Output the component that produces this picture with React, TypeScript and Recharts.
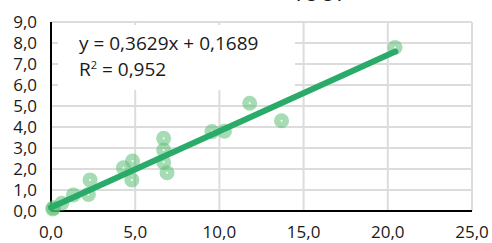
import React from "react";
import {
  ScatterChart, Scatter, XAxis, YAxis, CartesianGrid,
} from "recharts";

// measured values
const xs = [0.1, 0.15, 0.64, 1.33, 2.32, 2.22, 4.3, 4.84, 4.8, 6.69, 6.69, 6.69, 6.89, 9.56, 10.3, 11.8, 13.69, 20.43];
const ys = [0.1, 0.15, 0.37, 0.76, 1.48, 0.79, 2.06, 2.38, 1.48, 3.46, 2.9, 2.32, 1.82, 3.78, 3.8, 5.13, 4.3, 7.79];

// regression from the chart's equation
const slope = 0.3629;
const intercept = 0.1689;
const trendX = [0, 20.45];

const xTicks = [0, 5, 10, 15, 20, 25];
const yTicks = [0, 1, 2, 3, 4, 5, 6, 7, 8, 9];

const FONT = "'Open Sans', sans-serif";
const fmt = (v: number) => v.toFixed(1).replace(".", ",");

const points = xs.map((x, i) => ({ x, y: ys[i] }));
const trend = trendX.map((x) => ({ x, y: slope * x + intercept }));

function Dot(props: any) {
  const { cx, cy } = props;
  if (cx == null || cy == null) return null;
  return (
    <g>
      <circle cx={cx} cy={cy} r={7.5} fill="#5cbf74" fillOpacity={0.55} />
      <circle cx={cx} cy={cy} r={1} fill="#ffffff" />
    </g>
  );
}

export default function App() {
  return (
    <div style={{ position: "absolute", left: 0, top: 0, width: 492, height: 243, background: "#fff", overflow: "hidden" }}>
      <div
        style={{
          position: "absolute", left: 0, width: 492, top: -21, textAlign: "center",
          fontFamily: FONT, fontSize: 17, fontWeight: 600, paddingLeft: 180, boxSizing: "border-box",
          color: "#1a1a1a",
        }}
      >
        Teor (µg/g peso seco)
      </div>
      <ScatterChart width={492} height={243} margin={{ top: 22, right: 20, bottom: 0, left: 0 }}>
        <CartesianGrid stroke="#dcdcdc" strokeWidth={2} />
        <XAxis
          type="number" dataKey="x" domain={[0, 25]} ticks={xTicks} tickFormatter={fmt}
          axisLine={{ stroke: "#000", strokeWidth: 2 }} tickLine={false} tickSize={0} tickMargin={15}
          height={32} interval={0}
          tick={{ fill: "#1a1a1a", fontSize: 17, fontFamily: FONT }}
        />
        <YAxis
          type="number" dataKey="y" domain={[0, 9]} ticks={yTicks} tickFormatter={fmt}
          axisLine={{ stroke: "#000", strokeWidth: 2 }} tickLine={false} tickSize={0} tickMargin={14}
          width={51} interval={0}
          tick={{ fill: "#1a1a1a", fontSize: 17, fontFamily: FONT }}
        />
        <Scatter data={points} shape={<Dot />} isAnimationActive={false} />
        <Scatter
          data={trend} shape={() => null} isAnimationActive={false}
          line={{ stroke: "#2aab6a", strokeWidth: 6, strokeLinecap: "round" }}
        />
      </ScatterChart>
      <div
        style={{
          position: "absolute", left: 58, top: 25, width: 237, height: 65, background: "#fff",
          fontFamily: FONT, fontSize: 19, color: "#1a1a1a", lineHeight: "26px",
          paddingLeft: 21, paddingTop: 5, boxSizing: "border-box",
        }}
      >
        <div>y = 0,3629x + 0,1689</div>
        <div>R<sup style={{ fontSize: 11, verticalAlign: "7px", lineHeight: 0 }}>2</sup> = 0,952</div>
      </div>
    </div>
  );
}
